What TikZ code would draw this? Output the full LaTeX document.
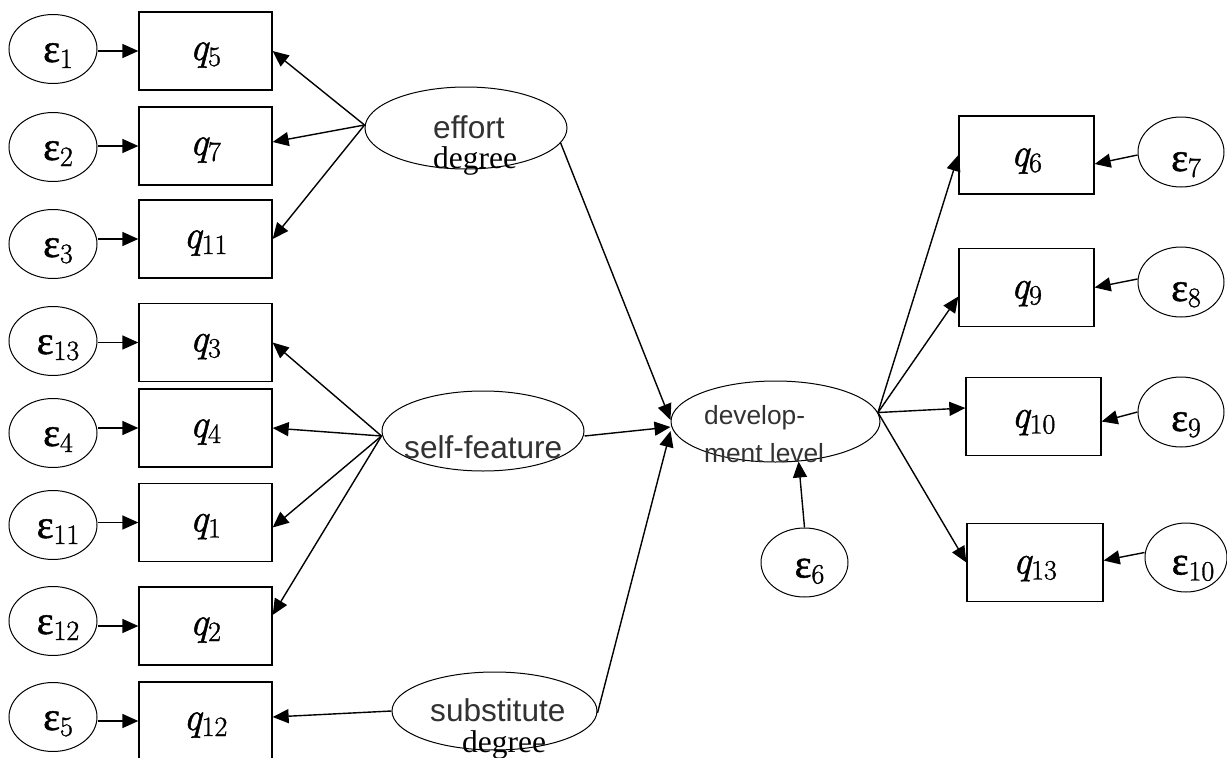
\documentclass[tikz,border=0pt]{standalone}
\usepackage{fontspec}
\usetikzlibrary{arrows.meta,shapes.geometric}
\newfontfamily\sansf{Liberation Sans}
\newfontfamily\serf{Liberation Serif}
\newfontfamily\epsf[FakeBold=1.2]{Liberation Serif}
\newfontfamily\qfont[FakeBold=1.2]{Latin Modern Roman}
\definecolor{txtgray}{RGB}{50,50,50}
\newcommand{\lowsub}[1]{\raisebox{-6pt}{\qfont\fontsize{28}{28}\selectfont #1}}
\newcommand{\eps}[1]{{\epsf\fontsize{40}{40}\selectfont ε}\lowsub{#1}}
\newcommand{\qv}[1]{{\qfont\itshape\fontsize{40}{40}\selectfont q}\lowsub{#1}}
\tikzset{
  qbox/.style={draw, line width=1.3pt, minimum width=133pt, minimum height=78pt, inner sep=0pt},
  errell/.style={draw, ellipse, line width=1pt, minimum width=88pt, minimum height=69pt, inner sep=0pt},
  latell/.style={draw, ellipse, line width=1pt, inner sep=0pt},
  qlab/.style={anchor=base, inner sep=0pt, font=\fontsize{36}{40}\selectfont},
  elab/.style={anchor=base, inner sep=0pt, font=\fontsize{36}{40}\selectfont},
  sanslab/.style={anchor=base west, inner sep=0pt, text=txtgray, font=\sansf\fontsize{31.6}{36}\selectfont},
  devlab/.style={anchor=base west, inner sep=0pt, text=txtgray, font=\sansf\fontsize{26.3}{30}\selectfont},
  seriflab/.style={anchor=base west, inner sep=0pt, font=\serf\fontsize{31.5}{36}\selectfont},
  arr/.style={line width=1.4pt, -{Triangle[length=16pt,width=14pt]}},
}
\begin{document}
\begin{tikzpicture}[x=1pt,y=-1pt]
\useasboundingbox (0,0) rectangle (1227,758);

% ---------- left indicator boxes ----------
\node[qbox] (q5)  at (205.5,51)    {};
\node[qbox] (q7)  at (205.5,146)   {};
\node[qbox] (q11) at (205.5,239)   {};
\node[qbox] (q3)  at (205.5,342.5) {};
\node[qbox] (q4)  at (205.5,428)   {};
\node[qbox] (q1)  at (205.5,522.5) {};
\node[qbox] (q2)  at (205.5,626)   {};
\node[qbox] (q12) at (205.5,721)   {};
\node[qlab] (lq5)  at ([yshift=-9pt]q5.center)  {\qv{5}};
\node[qlab] (lq7)  at ([yshift=-9pt]q7.center)  {\qv{7}};
\node[qlab] (lq11) at ([yshift=-9pt]q11.center) {\qv{11}};
\node[qlab] (lq3)  at ([yshift=-9pt]q3.center)  {\qv{3}};
\node[qlab] (lq4)  at ([yshift=-9pt]q4.center)  {\qv{4}};
\node[qlab] (lq1)  at ([yshift=-9pt]q1.center)  {\qv{1}};
\node[qlab] (lq2)  at ([yshift=-9pt]q2.center)  {\qv{2}};
\node[qlab] (lq12) at ([yshift=-9pt]q12.center) {\qv{12}};

% ---------- left error ellipses ----------
\node[errell] (e1)  at (53,49)  {};
\node[errell] (e2)  at (53,147) {};
\node[errell] (e3)  at (53,244) {};
\node[errell] (e13) at (53,341) {};
\node[errell] (e4)  at (53,433) {};
\node[errell] (e11) at (53,525) {};
\node[errell] (e12) at (53,621) {};
\node[errell] (e5)  at (53,717) {};
\node[elab] (le1)  at ([xshift=5pt,yshift=-13pt]e1.center)  {\eps{1}};
\node[elab] (le2)  at ([xshift=5pt,yshift=-13pt]e2.center)  {\eps{2}};
\node[elab] (le3)  at ([xshift=5pt,yshift=-13pt]e3.center)  {\eps{3}};
\node[elab] (le13) at ([xshift=5pt,yshift=-13pt]e13.center) {\eps{13}};
\node[elab] (le4)  at ([xshift=5pt,yshift=-13pt]e4.center)  {\eps{4}};
\node[elab] (le11) at ([xshift=5pt,yshift=-13pt]e11.center) {\eps{11}};
\node[elab] (le12) at ([xshift=5pt,yshift=-13pt]e12.center) {\eps{12}};
\node[elab] (le5)  at ([xshift=5pt,yshift=-13pt]e5.center)  {\eps{5}};

\foreach \e/\q in {e1/q5,e2/q7,e3/q11,e13/q3,e4/q4,e11/q1,e12/q2,e5/q12}
  \draw[arr] (\e.east |- \q.west) -- (\q.west);

% ---------- latent variables ----------
\node[latell, minimum width=202pt, minimum height=82pt] (eff) at (466,128)   {};
\node[latell, minimum width=202pt, minimum height=80pt] (sf)  at (483,431)   {};
\node[latell, minimum width=205pt, minimum height=78pt] (sub) at (494.5,711) {};
\node[latell, minimum width=209pt, minimum height=81pt] (dev) at (775.5,421.5) {};

\node[sanslab]  (tEff)    at (433,138)   {effort};
\node[seriflab] (tEffDeg) at (433,168.5) {degree};
\node[sanslab]  (tSf)     at (404,458)   {self-feature};
\node[sanslab]  (tSub)    at (430,721)   {substitute};
\node[seriflab] (tSubDeg) at (462,752)   {degree};
\node[devlab]   (tDev1)   at (704,424)   {develop-};
\node[devlab]   (tDev2)   at (704,462)   {ment level};

% effort degree -> indicators
\draw[arr] ([yshift=3pt]eff.west) -- (q5.east);
\draw[arr] ([yshift=3pt]eff.west) -- ([yshift=4pt]q7.east);
\draw[arr] ([yshift=3pt]eff.west) -- (q11.east);
% self-feature -> indicators
\draw[arr] ([yshift=-5pt]sf.west) -- (q3.east);
\draw[arr] ([yshift=-5pt]sf.west) -- (q4.east);
\draw[arr] ([yshift=-5pt]sf.west) -- ([yshift=-5pt]q1.east);
\draw[arr] ([yshift=-5pt]sf.west) -- ([yshift=11pt]q2.east);
% substitute -> indicator
\draw[arr] (sub.west) -- ([yshift=4pt]q12.east);

% latent -> development level
\draw[arr] (eff.351) -- ([yshift=1.5pt]dev.west);
\draw[arr] ([yshift=-5pt]sf.east) -- ([yshift=-5.5pt]dev.west);
\draw[arr] ([yshift=-2pt]sub.east) -- ([yshift=-9.5pt]dev.west);

% ---------- error of development level ----------
\node[errell, minimum width=87pt] (e6) at (804.5,562.5) {};
\node[elab] (le6) at ([xshift=5pt,yshift=-15pt]e6.center) {\eps{6}};
\draw[arr] (e6.north) -- (dev.-60);

% ---------- right indicator boxes ----------
\node[qbox, minimum width=135pt] (q6)  at (1026.5,155)   {};
\node[qbox, minimum width=135pt] (q9)  at (1026.5,287.5) {};
\node[qbox, minimum width=135pt] (q10) at (1033.5,416.5) {};
\node[qbox, minimum width=136pt] (q13) at (1035,562.5)   {};
\node[qlab] (lq6)  at ([yshift=-11pt]q6.center)  {\qv{6}};
\node[qlab] (lq9)  at ([yshift=-11pt]q9.center)  {\qv{9}};
\node[qlab] (lq10) at ([yshift=-11pt]q10.center) {\qv{10}};
\node[qlab] (lq13) at ([yshift=-11pt]q13.center) {\qv{13}};

\draw[arr] (dev.5) -- (q6.west);
\draw[arr] (dev.5) -- ([yshift=-9pt]q9.west);
\draw[arr] (dev.5) -- ([yshift=8.5pt]q10.west);
\draw[arr] (dev.5) -- (q13.west);

% ---------- right error ellipses ----------
\node[errell, minimum width=86pt, minimum height=70pt] (e7)  at (1181,152)    {};
\node[errell, minimum width=86pt, minimum height=70pt] (e8)  at (1181,282)    {};
\node[errell, minimum width=86pt, minimum height=70pt] (e9)  at (1181,412)    {};
\node[errell, minimum width=82pt, minimum height=69pt] (e10) at (1186,557.5)  {};
\node[elab] (le7)  at ([xshift=5pt,yshift=-19pt]e7.center)  {\eps{7}};
\node[elab] (le8)  at ([xshift=5pt,yshift=-19pt]e8.center)  {\eps{8}};
\node[elab] (le9)  at ([xshift=5pt,yshift=-19pt]e9.center)  {\eps{9}};
\node[elab] (le10) at ([xshift=7pt,yshift=-17pt]e10.center) {\eps{10}};

\draw[arr] ([yshift=-3pt]e7.west) -- ([yshift=-9pt]q6.east);
\draw[arr] ([yshift=3pt]e8.west)  -- (q9.east);
\draw[arr] (e9.west)              -- ([yshift=-5pt]q10.east);
\draw[arr] ([yshift=5pt]e10.west) -- ([yshift=2pt]q13.east);
\end{tikzpicture}
\end{document}
